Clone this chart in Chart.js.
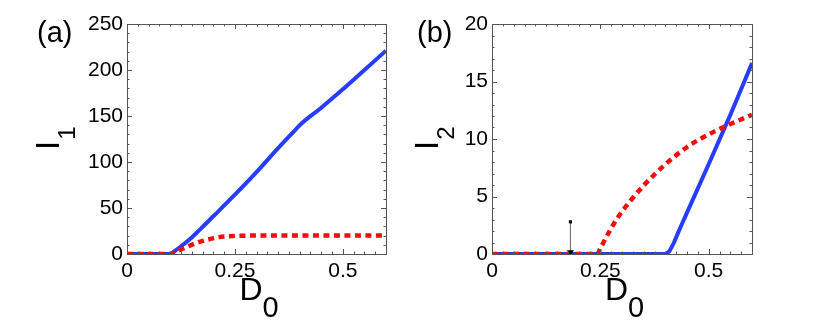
<!DOCTYPE html>
<html>
<head>
<meta charset="utf-8">
<script src="https://cdn.jsdelivr.net/npm/chart.js@4.4.1/dist/chart.umd.min.js"></script>
<style>
  body { margin: 0; background: #fff; }
  #wrap { position: relative; width: 830px; height: 323px; }
  canvas { position: absolute; top: 0; }
</style>
</head>
<body>
<div id="wrap">
  <canvas id="panelA" width="400" height="323" style="left:0"></canvas>
  <canvas id="panelB" width="430" height="323" style="left:400px"></canvas>
</div>
<script>
// panel (a): I1 vs D0
const xBlueA = [0, 0.05, 0.095, 0.1, 0.11, 0.12, 0.15, 0.17, 0.2, 0.25, 0.3, 0.35, 0.39, 0.4, 0.45, 0.5, 0.55, 0.6];
const blueA  = [0, 0, 0, 0, 3, 6.5, 18, 27, 41, 64.5, 89, 115, 135, 140, 159, 179, 200, 221];
const xRedA  = [0, 0.1, 0.11, 0.13, 0.15, 0.17, 0.19, 0.21, 0.23, 0.25, 0.3, 0.4, 0.5, 0.6];
const redA   = [0, 0, 2, 6, 10, 13.4, 16, 18.2, 19.2, 19.7, 20, 20, 20, 20];

// panel (b): I2 vs D0
const xBlueB = [0, 0.4, 0.405, 0.41, 0.42, 0.43, 0.45, 0.5, 0.55, 0.6];
const blueB  = [0, 0, 0.1, 0.3, 1.0, 1.9, 3.6, 7.8, 12.1, 16.6];
const xRedB  = [0, 0.243, 0.25, 0.26, 0.27, 0.28, 0.29, 0.3, 0.32, 0.35, 0.38, 0.4, 0.45, 0.5, 0.55, 0.6];
const redB   = [0, 0, 0.5, 1.2, 1.9, 2.55, 3.15, 3.7, 4.65, 5.95, 7.1, 7.8, 9.3, 10.4, 11.3, 12.1];
const arrowX = [0.181, 0.181];
const arrowY = [2.8, 0.15];

const xTicks  = [0, 0.25, 0.5];
const yTicksA = [0, 50, 100, 150, 200, 250];
const yTicksB = [0, 5, 10, 15, 20];

const BLUE = 'rgb(38,60,255)';
const RED = 'rgb(245,12,12)';
const FONT = '"Liberation Sans", Arial, sans-serif';

const pts = (xs, ys) => xs.map((x, i) => ({ x: x, y: ys[i] }));

// box round the plot with matlab-like inward ticks
const boxPlugin = {
  id: 'box',
  afterDatasetsDraw(chart, args, o) {
    const { ctx, chartArea: a, scales } = chart;
    const xs = scales.x, ys = scales.y;
    ctx.save();
    ctx.strokeStyle = '#555';
    ctx.lineWidth = 1;
    ctx.strokeRect(Math.round(a.left) + 0.5, Math.round(a.top) + 0.5,
      Math.round(a.right - a.left), Math.round(a.bottom - a.top));
    ctx.beginPath();
    const nx = Math.round(0.6 / o.xMinor);
    for (let i = 0; i <= nx; i++) {
      const v = i * o.xMinor;
      const p = Math.round(xs.getPixelForValue(v)) + 0.5;
      const len = (i % o.xEvery === 0) ? 5 : 2.5;
      ctx.moveTo(p, a.bottom); ctx.lineTo(p, a.bottom - len);
      ctx.moveTo(p, a.top); ctx.lineTo(p, a.top + len);
    }
    const ny = Math.round(o.yMax / o.yMinor);
    for (let i = 0; i <= ny; i++) {
      const v = i * o.yMinor;
      const p = Math.round(ys.getPixelForValue(v)) + 0.5;
      const len = (i % o.yEvery === 0) ? 5 : 2.5;
      ctx.moveTo(a.left, p); ctx.lineTo(a.left + len, p);
      ctx.moveTo(a.right, p); ctx.lineTo(a.right - len, p);
    }
    ctx.stroke();
    ctx.restore();
  }
};

// panel letter and axis titles with subscripts
const labelPlugin = {
  id: 'labels',
  afterDraw(chart, args, o) {
    const { ctx, chartArea: a } = chart;
    ctx.save();
    ctx.fillStyle = '#000';
    ctx.textBaseline = 'alphabetic';
    ctx.textAlign = 'left';
    ctx.font = '29px ' + FONT;
    ctx.fillText(o.letter, o.letterX, 42);

    // x title D0
    const cx = (a.left + a.right) / 2;
    ctx.font = '32px ' + FONT;
    ctx.fillText('D', cx - 17, 300);
    const dw = ctx.measureText('D').width;
    ctx.font = '29px ' + FONT;
    ctx.fillText('0', cx - 17 + dw, 317);

    // y title I1 / I2, rotated
    ctx.translate(o.yTitleX, 150);
    ctx.rotate(-Math.PI / 2);
    ctx.font = '33px ' + FONT;
    ctx.fillText('I', 0, 0);
    const iw = ctx.measureText('I').width;
    ctx.font = '24px ' + FONT;
    ctx.fillText(o.sub, iw + 1, 16);
    ctx.restore();
  }
};

function makeChart(id, datasets, yMax, yTicks, box, labels, pad) {
  return new Chart(document.getElementById(id), {
    type: 'line',
    data: { datasets: datasets },
    options: {
      responsive: false,
      animation: false,
      devicePixelRatio: 1,
      layout: { padding: pad },
      plugins: { legend: { display: false }, tooltip: { enabled: false }, box: box, labels: labels },
      elements: { point: { radius: 0 } },
      scales: {
        x: {
          type: 'linear', min: 0, max: 0.6,
          grid: { display: false, drawTicks: false },
          border: { display: false },
          afterBuildTicks: s => { s.ticks = xTicks.map(v => ({ value: v })); },
          afterFit: s => { s.height = 69; },
          ticks: { color: '#000', padding: 5, font: { family: FONT, size: 21 }, maxRotation: 0,
            callback: v => String(v) }
        },
        y: {
          type: 'linear', min: 0, max: yMax,
          grid: { display: false, drawTicks: false },
          border: { display: false },
          afterBuildTicks: s => { s.ticks = yTicks.map(v => ({ value: v })); },
          afterFit: s => { s.width = pad.yw; },
          ticks: { color: '#000', padding: 4, font: { family: FONT, size: 21 },
            callback: v => String(v) }
        }
      }
    },
    plugins: [boxPlugin, labelPlugin]
  });
}

const lineStyle = (data, color, dashed) => ({
  data: data,
  borderColor: color,
  borderWidth: dashed ? 4.5 : 4,
  borderDash: dashed ? [6, 4.5] : [],
  cubicInterpolationMode: 'monotone',
  pointRadius: 0,
  fill: false
});

makeChart('panelA', [
  lineStyle(pts(xRedA, redA), RED, true),
  lineStyle(pts(xBlueA, blueA), BLUE, false)
], 250, yTicksA,
  { xMinor: 0.025, xEvery: 10, yMinor: 10, yEvery: 5, yMax: 250 },
  { letter: '(a)', letterX: 37, yTitleX: 59, sub: '1' },
  { left: 0, top: 24, right: 14, bottom: 0, yw: 127 });

makeChart('panelB', [
  {
    data: pts(arrowX, arrowY),
    borderColor: '#777',
    borderWidth: 1.2,
    pointRadius: [2.2, 4],
    pointStyle: ['rect', 'triangle'],
    rotation: [0, 180],
    pointBackgroundColor: '#000',
    pointBorderColor: '#000',
    pointBorderWidth: 0,
    fill: false
  },
  lineStyle(pts(xRedB, redB), RED, true),
  lineStyle(pts(xBlueB, blueB), BLUE, false)
], 20, yTicksB,
  { xMinor: 0.025, xEvery: 10, yMinor: 1, yEvery: 5, yMax: 20 },
  { letter: '(b)', letterX: 17, yTitleX: 38, sub: '2' },
  { left: 0, top: 24, right: 78, bottom: 0, yw: 92 });
</script>
</body>
</html>
